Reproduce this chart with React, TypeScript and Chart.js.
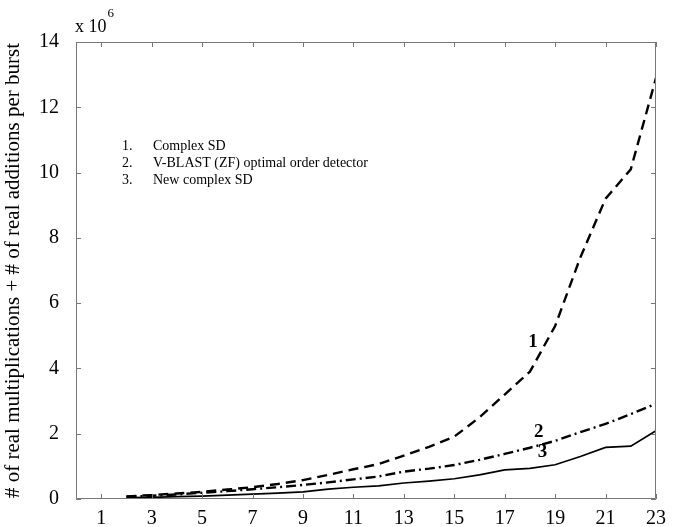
import React, { useEffect, useRef } from "react";
import { Chart, registerables } from "chart.js";

Chart.register(...registerables);

// Number of transmit antennas (x) and complexity in units of 1e6
const xValues = [2, 3, 4, 5, 6, 7, 8, 9, 10, 11, 12, 13, 14, 15, 16, 17, 18, 19, 20, 21, 22, 23];
const complexSD = [0.08, 0.12, 0.17, 0.22, 0.29, 0.36, 0.46, 0.58, 0.74, 0.91, 1.07, 1.33, 1.6, 1.91, 2.5, 3.2, 3.9, 5.3, 7.4, 9.2, 10.1, 12.9];
const vblastZF = [0.07, 0.1, 0.14, 0.19, 0.24, 0.3, 0.36, 0.43, 0.51, 0.6, 0.69, 0.84, 0.93, 1.04, 1.2, 1.38, 1.57, 1.78, 2.05, 2.3, 2.6, 2.92];
const newComplexSD = [0.04, 0.05, 0.07, 0.09, 0.12, 0.15, 0.18, 0.22, 0.3, 0.36, 0.4, 0.49, 0.55, 0.62, 0.74, 0.89, 0.94, 1.05, 1.3, 1.58, 1.62, 2.09];

const xTicks = [1, 3, 5, 7, 9, 11, 13, 15, 17, 19, 21, 23];
const yTicks = [0, 2, 4, 6, 8, 10, 12, 14];

const legendNumbers = ["1.", "2.", "3."];
const legendNames = ["Complex SD", "V-BLAST (ZF) optimal order detector", "New complex SD"];

const curveLabelText = ["1", "2", "3"];
const curveLabelX = [18.12, 18.35, 18.5];
const curveLabelY = [4.82, 2.06, 1.45];

const yTitle = "# of real multiplications + # of real additions per burst";
const FONT = "'Liberation Serif', 'Times New Roman', serif";

const boxPlugin = {
  id: "boxTicks",
  afterDraw(chart: any) {
    const { ctx, chartArea, scales } = chart;
    const { left, right, top, bottom } = chartArea;
    const xs = scales.x;
    const ys = scales.y;
    const tl = 5;
    ctx.save();
    ctx.strokeStyle = "#777777";
    ctx.lineWidth = 1;
    ctx.beginPath();
    ctx.rect(left + 0.5, top + 0.5, right - left - 1, bottom - top - 1);
    ctx.stroke();
    ctx.beginPath();
    xTicks.forEach((v) => {
      const px = Math.round(xs.getPixelForValue(v)) + 0.5;
      ctx.moveTo(px, bottom);
      ctx.lineTo(px, bottom - tl);
      ctx.moveTo(px, top);
      ctx.lineTo(px, top + tl);
    });
    yTicks.forEach((v) => {
      const py = Math.round(ys.getPixelForValue(v)) + 0.5;
      ctx.moveTo(left, py);
      ctx.lineTo(left + tl, py);
      ctx.moveTo(right, py);
      ctx.lineTo(right - tl, py);
    });
    ctx.stroke();

    // exponent label
    ctx.fillStyle = "#000";
    ctx.font = `18px ${FONT}`;
    ctx.textBaseline = "alphabetic";
    ctx.textAlign = "left";
    ctx.fillText("x 10", left - 1, top - 10);
    const w = ctx.measureText("x 10").width;
    ctx.font = `13px ${FONT}`;
    ctx.fillText("6", left - 1 + w + 1, top - 25);

    // legend text
    ctx.font = `14px ${FONT}`;
    ctx.textBaseline = "middle";
    for (let i = 0; i < legendNumbers.length; i++) {
      const y = 146 + i * 17;
      ctx.fillText(legendNumbers[i], 122, y);
      ctx.fillText(legendNames[i], 153, y);
    }

    // curve labels
    ctx.font = `bold 19px ${FONT}`;
    ctx.textAlign = "center";
    for (let i = 0; i < curveLabelText.length; i++) {
      ctx.fillText(curveLabelText[i], xs.getPixelForValue(curveLabelX[i]), ys.getPixelForValue(curveLabelY[i]));
    }
    ctx.restore();
  },
};

export default function App() {
  const ref = useRef<HTMLCanvasElement>(null);
  useEffect(() => {
    if (!ref.current) return;
    const mk = (vals: number[]) => xValues.map((x, i) => ({ x, y: vals[i] }));
    const chart = new Chart(ref.current, {
      type: "line",
      data: {
        datasets: [
          {
            label: "Complex SD",
            data: mk(complexSD),
            borderColor: "#000",
            borderWidth: 2.4,
            borderDash: [10, 6],
            pointRadius: 0,
            tension: 0,
            fill: false,
          },
          {
            label: "V-BLAST (ZF) optimal order detector",
            data: mk(vblastZF),
            borderColor: "#000",
            borderWidth: 2.4,
            borderDash: [10, 4, 2, 4],
            pointRadius: 0,
            tension: 0,
            fill: false,
          },
          {
            label: "New complex SD",
            data: mk(newComplexSD),
            borderColor: "#000",
            borderWidth: 1.7,
            pointRadius: 0,
            tension: 0,
            fill: false,
          },
        ],
      },
      options: {
        animation: false,
        responsive: false,
        devicePixelRatio: 1,
        layout: { padding: { left: 0, top: 42, right: 34, bottom: 0 } },
        plugins: { legend: { display: false }, tooltip: { enabled: false } },
        scales: {
          x: {
            type: "linear",
            min: 0,
            max: 23,
            grid: { display: false },
            border: { display: false },
            afterBuildTicks: (s: any) => {
              s.ticks = xTicks.map((v) => ({ value: v }));
            },
            afterFit: (s: any) => {
              s.height = 28;
            },
            ticks: {
              autoSkip: false,
              maxRotation: 0,
              color: "#000",
              padding: 0,
              font: { family: FONT, size: 20 },
            },
          },
          y: {
            type: "linear",
            min: 0,
            max: 14,
            grid: { display: false },
            border: { display: false },
            afterBuildTicks: (s: any) => {
              s.ticks = yTicks.map((v) => ({ value: v }));
            },
            afterFit: (s: any) => {
              s.width = 76;
            },
            ticks: {
              color: "#000",
              padding: 9,
              font: { family: FONT, size: 20 },
            },
            title: {
              display: true,
              text: yTitle,
              color: "#000",
              padding: { top: 1, bottom: 0 },
              font: { family: FONT, size: 21 },
            },
          },
        },
      },
      plugins: [boxPlugin],
    });
    return () => chart.destroy();
  }, []);
  return (
    <div style={{ position: "absolute", left: 0, top: 0, width: 690, height: 527, background: "#fff" }}>
      <canvas ref={ref} width={690} height={527} />
    </div>
  );
}
